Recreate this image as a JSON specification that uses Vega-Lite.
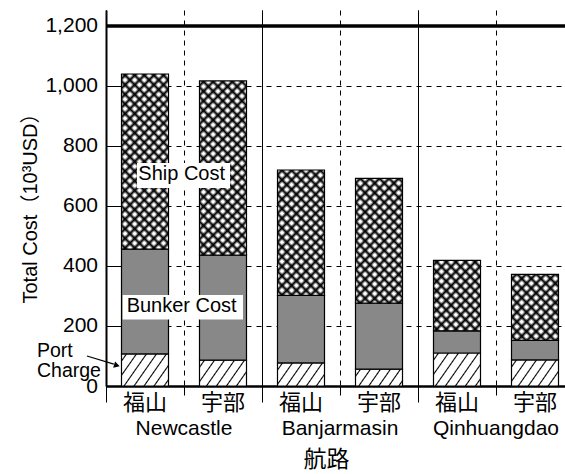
{
  "$schema": "https://vega.github.io/schema/vega-lite/v6.json",
  "width": 459,
  "height": 376,
  "autosize": {"type": "none"},
  "padding": {"left": 106, "top": 10, "right": 0, "bottom": 88},
  "config": {
    "font": "Liberation Sans, Noto Sans CJK JP",
    "view": {"stroke": null},
    "axis": {"labelColor": "black", "titleColor": "black", "tickColor": "black", "domainColor": "black", "gridColor": "black", "gridOpacity": 1, "titleFontWeight": "normal"}
  },
  "params": [
    {"name": "hs", "value": [
      {"offset": 0, "color": "white"},
      {"offset": 0.037, "color": "white"}, {"offset": 0.05, "color": "black"}, {"offset": 0.063, "color": "white"},
      {"offset": 0.137, "color": "white"}, {"offset": 0.15, "color": "black"}, {"offset": 0.163, "color": "white"},
      {"offset": 0.237, "color": "white"}, {"offset": 0.25, "color": "black"}, {"offset": 0.263, "color": "white"},
      {"offset": 0.337, "color": "white"}, {"offset": 0.35, "color": "black"}, {"offset": 0.363, "color": "white"},
      {"offset": 0.437, "color": "white"}, {"offset": 0.45, "color": "black"}, {"offset": 0.463, "color": "white"},
      {"offset": 0.537, "color": "white"}, {"offset": 0.55, "color": "black"}, {"offset": 0.563, "color": "white"},
      {"offset": 0.637, "color": "white"}, {"offset": 0.65, "color": "black"}, {"offset": 0.663, "color": "white"},
      {"offset": 0.737, "color": "white"}, {"offset": 0.75, "color": "black"}, {"offset": 0.763, "color": "white"},
      {"offset": 0.837, "color": "white"}, {"offset": 0.85, "color": "black"}, {"offset": 0.863, "color": "white"},
      {"offset": 0.937, "color": "white"}, {"offset": 0.95, "color": "black"}, {"offset": 0.963, "color": "white"},
      {"offset": 1, "color": "white"}
    ]},
    {"name": "xs", "value": [
      {"offset": 0, "color": "white"},
      {"offset": 0.006, "color": "white"}, {"offset": 0.02, "color": "black"}, {"offset": 0.034, "color": "white"},
      {"offset": 0.046, "color": "white"}, {"offset": 0.06, "color": "black"}, {"offset": 0.074, "color": "white"},
      {"offset": 0.086, "color": "white"}, {"offset": 0.1, "color": "black"}, {"offset": 0.114, "color": "white"},
      {"offset": 0.126, "color": "white"}, {"offset": 0.14, "color": "black"}, {"offset": 0.154, "color": "white"},
      {"offset": 0.166, "color": "white"}, {"offset": 0.18, "color": "black"}, {"offset": 0.194, "color": "white"},
      {"offset": 0.206, "color": "white"}, {"offset": 0.22, "color": "black"}, {"offset": 0.234, "color": "white"},
      {"offset": 0.246, "color": "white"}, {"offset": 0.26, "color": "black"}, {"offset": 0.274, "color": "white"},
      {"offset": 0.286, "color": "white"}, {"offset": 0.3, "color": "black"}, {"offset": 0.314, "color": "white"},
      {"offset": 0.326, "color": "white"}, {"offset": 0.34, "color": "black"}, {"offset": 0.354, "color": "white"},
      {"offset": 0.366, "color": "white"}, {"offset": 0.38, "color": "black"}, {"offset": 0.394, "color": "white"},
      {"offset": 0.406, "color": "white"}, {"offset": 0.42, "color": "black"}, {"offset": 0.434, "color": "white"},
      {"offset": 0.446, "color": "white"}, {"offset": 0.46, "color": "black"}, {"offset": 0.474, "color": "white"},
      {"offset": 0.486, "color": "white"}, {"offset": 0.5, "color": "black"}, {"offset": 0.514, "color": "white"},
      {"offset": 0.526, "color": "white"}, {"offset": 0.54, "color": "black"}, {"offset": 0.554, "color": "white"},
      {"offset": 0.566, "color": "white"}, {"offset": 0.58, "color": "black"}, {"offset": 0.594, "color": "white"},
      {"offset": 0.606, "color": "white"}, {"offset": 0.62, "color": "black"}, {"offset": 0.634, "color": "white"},
      {"offset": 0.646, "color": "white"}, {"offset": 0.66, "color": "black"}, {"offset": 0.674, "color": "white"},
      {"offset": 0.686, "color": "white"}, {"offset": 0.7, "color": "black"}, {"offset": 0.714, "color": "white"},
      {"offset": 0.726, "color": "white"}, {"offset": 0.74, "color": "black"}, {"offset": 0.754, "color": "white"},
      {"offset": 0.766, "color": "white"}, {"offset": 0.78, "color": "black"}, {"offset": 0.794, "color": "white"},
      {"offset": 0.806, "color": "white"}, {"offset": 0.82, "color": "black"}, {"offset": 0.834, "color": "white"},
      {"offset": 0.846, "color": "white"}, {"offset": 0.86, "color": "black"}, {"offset": 0.874, "color": "white"},
      {"offset": 0.886, "color": "white"}, {"offset": 0.9, "color": "black"}, {"offset": 0.914, "color": "white"},
      {"offset": 0.926, "color": "white"}, {"offset": 0.94, "color": "black"}, {"offset": 0.954, "color": "white"},
      {"offset": 0.966, "color": "white"}, {"offset": 0.98, "color": "black"}, {"offset": 0.994, "color": "white"},
      {"offset": 1, "color": "white"}
    ]},
    {"name": "xb", "value": [
      {"offset": 0, "color": "transparent"},
      {"offset": 0.006, "color": "transparent"}, {"offset": 0.02, "color": "black"}, {"offset": 0.034, "color": "transparent"},
      {"offset": 0.046, "color": "transparent"}, {"offset": 0.06, "color": "black"}, {"offset": 0.074, "color": "transparent"},
      {"offset": 0.086, "color": "transparent"}, {"offset": 0.1, "color": "black"}, {"offset": 0.114, "color": "transparent"},
      {"offset": 0.126, "color": "transparent"}, {"offset": 0.14, "color": "black"}, {"offset": 0.154, "color": "transparent"},
      {"offset": 0.166, "color": "transparent"}, {"offset": 0.18, "color": "black"}, {"offset": 0.194, "color": "transparent"},
      {"offset": 0.206, "color": "transparent"}, {"offset": 0.22, "color": "black"}, {"offset": 0.234, "color": "transparent"},
      {"offset": 0.246, "color": "transparent"}, {"offset": 0.26, "color": "black"}, {"offset": 0.274, "color": "transparent"},
      {"offset": 0.286, "color": "transparent"}, {"offset": 0.3, "color": "black"}, {"offset": 0.314, "color": "transparent"},
      {"offset": 0.326, "color": "transparent"}, {"offset": 0.34, "color": "black"}, {"offset": 0.354, "color": "transparent"},
      {"offset": 0.366, "color": "transparent"}, {"offset": 0.38, "color": "black"}, {"offset": 0.394, "color": "transparent"},
      {"offset": 0.406, "color": "transparent"}, {"offset": 0.42, "color": "black"}, {"offset": 0.434, "color": "transparent"},
      {"offset": 0.446, "color": "transparent"}, {"offset": 0.46, "color": "black"}, {"offset": 0.474, "color": "transparent"},
      {"offset": 0.486, "color": "transparent"}, {"offset": 0.5, "color": "black"}, {"offset": 0.514, "color": "transparent"},
      {"offset": 0.526, "color": "transparent"}, {"offset": 0.54, "color": "black"}, {"offset": 0.554, "color": "transparent"},
      {"offset": 0.566, "color": "transparent"}, {"offset": 0.58, "color": "black"}, {"offset": 0.594, "color": "transparent"},
      {"offset": 0.606, "color": "transparent"}, {"offset": 0.62, "color": "black"}, {"offset": 0.634, "color": "transparent"},
      {"offset": 0.646, "color": "transparent"}, {"offset": 0.66, "color": "black"}, {"offset": 0.674, "color": "transparent"},
      {"offset": 0.686, "color": "transparent"}, {"offset": 0.7, "color": "black"}, {"offset": 0.714, "color": "transparent"},
      {"offset": 0.726, "color": "transparent"}, {"offset": 0.74, "color": "black"}, {"offset": 0.754, "color": "transparent"},
      {"offset": 0.766, "color": "transparent"}, {"offset": 0.78, "color": "black"}, {"offset": 0.794, "color": "transparent"},
      {"offset": 0.806, "color": "transparent"}, {"offset": 0.82, "color": "black"}, {"offset": 0.834, "color": "transparent"},
      {"offset": 0.846, "color": "transparent"}, {"offset": 0.86, "color": "black"}, {"offset": 0.874, "color": "transparent"},
      {"offset": 0.886, "color": "transparent"}, {"offset": 0.9, "color": "black"}, {"offset": 0.914, "color": "transparent"},
      {"offset": 0.926, "color": "transparent"}, {"offset": 0.94, "color": "black"}, {"offset": 0.954, "color": "transparent"},
      {"offset": 0.966, "color": "transparent"}, {"offset": 0.98, "color": "black"}, {"offset": 0.994, "color": "transparent"},
      {"offset": 1, "color": "transparent"}
    ]}
  ],
  "data": {"values": [
    {"route": "Newcastle", "port": "福山", "bar": "Newcastle 福山", "part": "Port Charge", "cost": 107},
    {"route": "Newcastle", "port": "福山", "bar": "Newcastle 福山", "part": "Bunker Cost", "cost": 349},
    {"route": "Newcastle", "port": "福山", "bar": "Newcastle 福山", "part": "Ship Cost", "cost": 584},
    {"route": "Newcastle", "port": "宇部", "bar": "Newcastle 宇部", "part": "Port Charge", "cost": 86},
    {"route": "Newcastle", "port": "宇部", "bar": "Newcastle 宇部", "part": "Bunker Cost", "cost": 350},
    {"route": "Newcastle", "port": "宇部", "bar": "Newcastle 宇部", "part": "Ship Cost", "cost": 581},
    {"route": "Banjarmasin", "port": "福山", "bar": "Banjarmasin 福山", "part": "Port Charge", "cost": 77},
    {"route": "Banjarmasin", "port": "福山", "bar": "Banjarmasin 福山", "part": "Bunker Cost", "cost": 225},
    {"route": "Banjarmasin", "port": "福山", "bar": "Banjarmasin 福山", "part": "Ship Cost", "cost": 418},
    {"route": "Banjarmasin", "port": "宇部", "bar": "Banjarmasin 宇部", "part": "Port Charge", "cost": 56},
    {"route": "Banjarmasin", "port": "宇部", "bar": "Banjarmasin 宇部", "part": "Bunker Cost", "cost": 220},
    {"route": "Banjarmasin", "port": "宇部", "bar": "Banjarmasin 宇部", "part": "Ship Cost", "cost": 416},
    {"route": "Qinhuangdao", "port": "福山", "bar": "Qinhuangdao 福山", "part": "Port Charge", "cost": 110},
    {"route": "Qinhuangdao", "port": "福山", "bar": "Qinhuangdao 福山", "part": "Bunker Cost", "cost": 74},
    {"route": "Qinhuangdao", "port": "福山", "bar": "Qinhuangdao 福山", "part": "Ship Cost", "cost": 235},
    {"route": "Qinhuangdao", "port": "宇部", "bar": "Qinhuangdao 宇部", "part": "Port Charge", "cost": 87},
    {"route": "Qinhuangdao", "port": "宇部", "bar": "Qinhuangdao 宇部", "part": "Bunker Cost", "cost": 65},
    {"route": "Qinhuangdao", "port": "宇部", "bar": "Qinhuangdao 宇部", "part": "Ship Cost", "cost": 220}
  ]},
  "transform": [{"stack": "cost", "groupby": ["bar"], "as": ["lo", "hi"]}],
  "layer": [
    {
      "layer": [
        {
          "mark": {
            "type": "bar", "width": 47, "stroke": "black", "strokeWidth": 1.2,
            "fill": {"expr": "datum.part === 'Bunker Cost' ? '#888888' : datum.part === 'Port Charge' ? {gradient: 'linear', x1: 0, y1: 0, x2: 4700 / (2209 + 0.49 * pow(scale('y', datum.lo) - scale('y', datum.hi), 2)), y2: 70 * (scale('y', datum.lo) - scale('y', datum.hi)) / (2209 + 0.49 * pow(scale('y', datum.lo) - scale('y', datum.hi), 2)), stops: hs} : {gradient: 'linear', x1: 0, y1: 0, x2: 11280 / (2209 + pow(scale('y', datum.lo) - scale('y', datum.hi), 2)), y2: 240 * (scale('y', datum.lo) - scale('y', datum.hi)) / (2209 + pow(scale('y', datum.lo) - scale('y', datum.hi), 2)), stops: xs}"}
          },
          "encoding": {
            "x": {
              "field": "bar", "type": "nominal",
              "scale": {"domain": ["Newcastle 福山", "Newcastle 宇部", "Banjarmasin 福山", "Banjarmasin 宇部", "Qinhuangdao 福山", "Qinhuangdao 宇部"], "range": [0, 468], "paddingInner": 0, "paddingOuter": 0},
              "axis": {
                "orient": "bottom", "title": null, "domain": true, "domainWidth": 2.5,
                "ticks": true, "tickSize": 9, "tickWidth": 1, "bandPosition": 0,
                "grid": true, "gridDash": [5, 5], "gridWidth": 1,
                "labelExpr": "split(datum.label, ' ')[1]", "labelFont": "Noto Sans CJK JP",
                "labelFontSize": 22, "labelPadding": -3, "labelAngle": 0
              }
            },
            "y": {
              "field": "hi", "type": "quantitative",
              "scale": {"domain": [0, 1253.3], "nice": false, "zero": true},
              "axis": {
                "values": [0, 200, 400, 600, 800, 1000, 1200],
                "labelExpr": "format(datum.value, ',')",
                "title": "Total Cost（10³USD）", "titleFontSize": 20, "titlePadding": 4, "titleY": 193,
                "domain": true, "domainWidth": 2, "tickSize": -15, "tickWidth": 1,
                "labelPadding": 23.5, "labelFontSize": 21,
                "grid": true, "gridDash": [5, 5], "gridWidth": 1
              }
            },
            "y2": {"field": "lo"}
          }
        },
        {
          "transform": [{"filter": "datum.part === 'Ship Cost'"}],
          "mark": {
            "type": "bar", "width": 47,
            "fill": {"expr": "{gradient: 'linear', x1: 0, y1: 1, x2: 11280 / (2209 + pow(scale('y', datum.lo) - scale('y', datum.hi), 2)), y2: 1 - 240 * (scale('y', datum.lo) - scale('y', datum.hi)) / (2209 + pow(scale('y', datum.lo) - scale('y', datum.hi), 2)), stops: xb}"}
          },
          "encoding": {
            "x": {"field": "bar", "type": "nominal"},
            "y": {"field": "hi", "type": "quantitative"},
            "y2": {"field": "lo"}
          }
        },
        {
          "data": {"values": [{}]},
          "mark": {"type": "rect", "fill": "white"},
          "encoding": {
            "x": {"datum": "Newcastle 福山", "bandPosition": 0.397},
            "x2": {"datum": "Newcastle 宇部", "bandPosition": 0.59},
            "y": {"datum": 743},
            "y2": {"datum": 660}
          }
        },
        {
          "data": {"values": [{}]},
          "mark": {"type": "rect", "fill": "white"},
          "encoding": {
            "x": {"datum": "Newcastle 福山", "bandPosition": 0.214},
            "x2": {"datum": "Newcastle 宇部", "bandPosition": 0.756},
            "y": {"datum": 303},
            "y2": {"datum": 222}
          }
        },
        {
          "data": {"values": [{}]},
          "mark": {"type": "text", "text": "Ship Cost", "fontSize": 20, "align": "center", "baseline": "middle", "color": "black"},
          "encoding": {
            "x": {"datum": "Newcastle 宇部", "bandPosition": -0.03},
            "y": {"datum": 707}
          }
        },
        {
          "data": {"values": [{}]},
          "mark": {"type": "text", "text": "Bunker Cost", "fontSize": 20, "align": "center", "baseline": "middle", "color": "black"},
          "encoding": {
            "x": {"datum": "Newcastle 宇部", "bandPosition": -0.03},
            "y": {"datum": 268}
          }
        },
        {
          "data": {"values": [{}]},
          "mark": {"type": "text", "text": ["Port", "Charge"], "fontSize": 19.5, "lineHeight": 20, "align": "left", "baseline": "alphabetic", "color": "black"},
          "encoding": {
            "x": {"datum": "Newcastle 福山", "bandPosition": -0.885},
            "y": {"datum": 96.7}
          }
        },
        {
          "data": {"values": [{}]},
          "mark": {"type": "rule", "strokeWidth": 1.2, "color": "black"},
          "encoding": {
            "x": {"datum": "Newcastle 福山", "bandPosition": -0.244},
            "x2": {"datum": "Newcastle 福山", "bandPosition": 0.1},
            "y": {"datum": 100},
            "y2": {"datum": 73}
          }
        },
        {
          "data": {"values": [{}]},
          "mark": {"type": "point", "shape": "triangle-right", "filled": true, "color": "black", "opacity": 1, "size": 45, "angle": 17},
          "encoding": {
            "x": {"datum": "Newcastle 福山", "bandPosition": 0.14},
            "y": {"datum": 68.5}
          }
        },
        {
          "data": {"values": [{}]},
          "mark": {"type": "rule", "strokeWidth": 3.5, "color": "black"},
          "encoding": {"y": {"datum": 1200}}
        }
      ]
    },
    {
      "mark": {"type": "bar", "opacity": 0},
      "encoding": {
        "x": {
          "field": "route", "type": "nominal",
          "scale": {"domain": ["Newcastle", "Banjarmasin", "Qinhuangdao"], "range": [0, 468], "paddingInner": 0, "paddingOuter": 0},
          "axis": {
            "orient": "bottom", "title": "航路", "titleFont": "Noto Sans CJK JP", "titleFontSize": 23,
            "titlePadding": 10, "titleX": 220,
            "domain": false, "ticks": true, "tickSize": 16, "tickWidth": 1, "bandPosition": 0,
            "grid": true, "gridDash": [], "gridWidth": 1,
            "labelFontSize": 21, "labelPadding": 15, "labelAngle": 0
          }
        }
      }
    }
  ],
  "resolve": {"scale": {"x": "independent"}}
}
